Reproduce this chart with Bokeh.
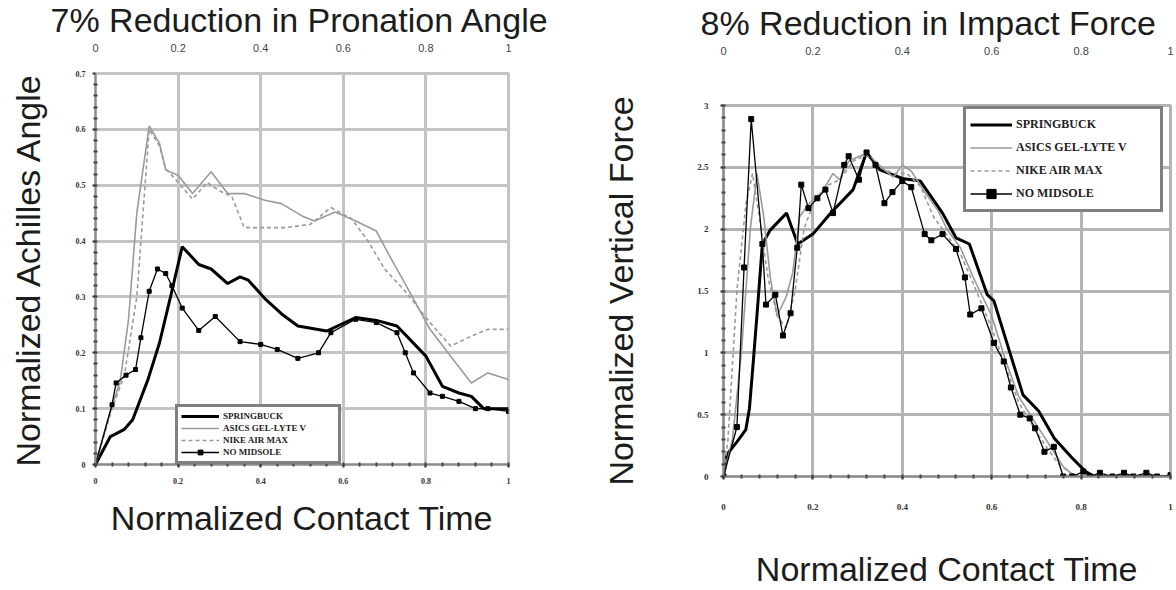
from bokeh.plotting import figure
from bokeh.layouts import row
from bokeh.models import FixedTicker, Legend, LegendItem, LinearAxis, Range1d
from bokeh.embed import file_html
from bokeh.resources import INLINE

# ---------------- data ----------------
SERIES = ["SPRINGBUCK", "ASICS GEL-LYTE V", "NIKE AIR MAX", "NO MIDSOLE"]

LEFT_TITLE = "7% Reduction in Pronation Angle"
LEFT_YLABEL = "Normalized Achilles Angle"
RIGHT_TITLE = "8% Reduction in Impact Force"
RIGHT_YLABEL = "Normalized Vertical Force"
XLABEL = "Normalized Contact Time"

LEFT_XTICKS = [0, 0.2, 0.4, 0.6, 0.8, 1.0]
LEFT_XTICK_LABELS = ["0", "0.2", "0.4", "0.6", "0.8", "1"]
LEFT_YTICKS = [0, 0.1, 0.2, 0.3, 0.4, 0.5, 0.6, 0.7]
LEFT_YTICK_LABELS = ["0", "0.1", "0.2", "0.3", "0.4", "0.5", "0.6", "0.7"]
RIGHT_XTICKS = [0, 0.2, 0.4, 0.6, 0.8, 1.0]
RIGHT_XTICK_LABELS = ["0", "0.2", "0.4", "0.6", "0.8", "1"]
RIGHT_YTICKS = [0, 0.5, 1, 1.5, 2, 2.5, 3]
RIGHT_YTICK_LABELS = ["0", "0.5", "1", "1.5", "2", "2.5", "3"]

# Left chart: normalized Achilles angle
L_SPRING_X = [0, 0.036, 0.07, 0.09, 0.127, 0.155, 0.18, 0.21, 0.25, 0.28, 0.32, 0.35, 0.37, 0.41,
              0.45, 0.49, 0.56, 0.63, 0.68, 0.73, 0.8, 0.84, 0.88, 0.91, 0.94, 0.97, 1.0]
L_SPRING_Y = [0, 0.05, 0.063, 0.08, 0.152, 0.218, 0.295, 0.39, 0.358, 0.35, 0.324, 0.336, 0.33, 0.297,
              0.27, 0.248, 0.239, 0.263, 0.258, 0.248, 0.194, 0.14, 0.128, 0.122, 0.1, 0.1, 0.1]
L_ASICS_X = [0, 0.03, 0.06, 0.08, 0.1, 0.13, 0.155, 0.17, 0.2, 0.235, 0.28, 0.32, 0.36, 0.41, 0.45,
             0.5, 0.53, 0.58, 0.63, 0.68, 0.71, 0.76, 0.81, 0.86, 0.91, 0.95, 1.0]
L_ASICS_Y = [0, 0.08, 0.15, 0.26, 0.45, 0.606, 0.575, 0.527, 0.518, 0.485, 0.524, 0.485, 0.485, 0.473,
             0.467, 0.445, 0.436, 0.452, 0.436, 0.418, 0.376, 0.31, 0.242, 0.194, 0.146, 0.164, 0.152]
L_NIKE_X = [0, 0.04, 0.07, 0.1, 0.12, 0.13, 0.155, 0.17, 0.2, 0.235, 0.27, 0.3, 0.33, 0.36, 0.41,
            0.46, 0.52, 0.57, 0.62, 0.66, 0.7, 0.75, 0.81, 0.86, 0.91, 0.95, 1.0]
L_NIKE_Y = [0, 0.1, 0.16, 0.3, 0.5, 0.6, 0.57, 0.53, 0.505, 0.475, 0.505, 0.49, 0.48, 0.424, 0.424,
            0.424, 0.43, 0.46, 0.44, 0.4, 0.35, 0.31, 0.254, 0.212, 0.23, 0.242, 0.242]
L_NOMID_X = [0, 0.04, 0.05, 0.074, 0.097, 0.11, 0.13, 0.15, 0.17, 0.185, 0.21, 0.25, 0.29, 0.35, 0.4,
             0.44, 0.49, 0.54, 0.57, 0.63, 0.68, 0.73, 0.75, 0.77, 0.81, 0.84, 0.88, 0.92, 0.95, 1.0]
L_NOMID_Y = [0, 0.107, 0.146, 0.16, 0.17, 0.227, 0.31, 0.35, 0.342, 0.32, 0.28, 0.24, 0.265, 0.22, 0.215,
             0.206, 0.19, 0.2, 0.236, 0.26, 0.254, 0.236, 0.2, 0.164, 0.128, 0.122, 0.113, 0.1, 0.1, 0.095]

# Right chart: normalized vertical force
R_SPRING_X = [0, 0.008, 0.03, 0.05, 0.058, 0.066, 0.075, 0.087, 0.104, 0.141, 0.166, 0.2, 0.24, 0.29,
              0.32, 0.35, 0.4, 0.44, 0.49, 0.52, 0.55, 0.59, 0.605, 0.64, 0.67, 0.705, 0.74, 0.78,
              0.81, 0.83, 1.0]
R_SPRING_Y = [0, 0.18, 0.28, 0.38, 0.55, 0.9, 1.31, 1.88, 1.99, 2.13, 1.88, 1.96, 2.13, 2.32,
              2.62, 2.48, 2.41, 2.39, 2.13, 1.93, 1.88, 1.47, 1.42, 1.01, 0.66, 0.53, 0.31, 0.15,
              0.04, 0.0, 0.0]
R_ASICS_X = [0, 0.02, 0.04, 0.06, 0.075, 0.09, 0.105, 0.12, 0.14, 0.155, 0.17, 0.19, 0.22, 0.245,
             0.26, 0.28, 0.31, 0.33, 0.36, 0.38, 0.4, 0.42, 0.45, 0.48, 0.5, 0.53, 0.56, 0.6, 0.63,
             0.66, 0.7, 0.73, 0.76, 0.78, 0.8, 1.0]
R_ASICS_Y = [0, 0.3, 1.0, 2.0, 2.45, 2.1, 1.6, 1.3, 1.45, 1.65, 2.1, 2.2, 2.3, 2.45,
             2.4, 2.55, 2.6, 2.58, 2.48, 2.42, 2.52, 2.47, 2.3, 2.15, 2.0, 1.85, 1.6, 1.3, 0.95,
             0.65, 0.42, 0.25, 0.08, 0.02, 0.0, 0.0]
R_NIKE_X = [0, 0.01, 0.03, 0.05, 0.065, 0.08, 0.1, 0.12, 0.14, 0.16, 0.18, 0.2, 0.23, 0.26, 0.29,
            0.32, 0.35, 0.38, 0.41, 0.44, 0.47, 0.5, 0.53, 0.56, 0.6, 0.63, 0.66, 0.69, 0.72, 0.75,
            0.78, 0.8, 1.0]
R_NIKE_Y = [0, 0.3, 1.5, 2.2, 2.45, 2.1, 1.6, 1.3, 1.2, 1.5, 2.0, 2.2, 2.35, 2.4, 2.55,
            2.6, 2.5, 2.45, 2.45, 2.35, 2.1, 1.95, 1.8, 1.55, 1.2, 0.9, 0.6, 0.42, 0.25, 0.1,
            0.02, 0.0, 0.0]
R_NOMID_X = [0, 0.03, 0.046, 0.062, 0.087, 0.095, 0.116, 0.133, 0.15, 0.165, 0.174, 0.19, 0.21, 0.228,
             0.245, 0.27, 0.28, 0.303, 0.32, 0.34, 0.36, 0.378, 0.4, 0.42, 0.45, 0.465, 0.49, 0.52,
             0.54, 0.552, 0.577, 0.605, 0.627, 0.643, 0.664, 0.685, 0.697, 0.718, 0.739, 0.76, 0.78,
             0.805, 0.82, 0.842, 0.87, 0.896, 0.917, 0.946, 0.97, 1.0]
R_NOMID_Y = [0, 0.4, 1.69, 2.89, 1.88, 1.39, 1.47, 1.14, 1.32, 1.85, 2.36, 2.17, 2.25, 2.32,
             2.13, 2.52, 2.59, 2.4, 2.62, 2.52, 2.21, 2.3, 2.39, 2.34, 1.96, 1.91, 1.96, 1.84,
             1.61, 1.31, 1.36, 1.08, 0.93, 0.72, 0.5, 0.47, 0.39, 0.2, 0.24, 0.0, 0.0,
             0.04, 0.0, 0.03, 0.0, 0.03, 0.0, 0.03, 0.0, 0.01]

SANS = "Liberation Sans"
SERIF = "Liberation Serif"


def build(cfg):
    p = figure(width=cfg["width"], height=cfg["height"],
               x_range=Range1d(0, 1), y_range=Range1d(0, cfg["ymax"]),
               output_backend="svg", toolbar_location=None,
               min_border_left=cfg["bl"], min_border_right=cfg["br"],
               min_border_top=cfg["bt"], min_border_bottom=cfg["bb"],
               background_fill_color="white", border_fill_color="white")
    if "frame_align" in p.properties():
        p.frame_align = False
    p.title.text = cfg["title"]
    p.title.align = "left"
    p.title.offset = cfg["title_offset"]
    p.title.vertical_align = "top"
    p.title.standoff = 0
    p.title.text_font = SANS
    p.title.text_font_size = "34px"
    p.title.text_font_style = "normal"
    p.title.text_color = "#1c1c1c"
    # an empty, invisible top axis keeps a gap between the frame and the title
    gap_axis = LinearAxis(ticker=FixedTicker(ticks=[]), major_tick_out=cfg["title_gap"],
                          major_tick_in=0, axis_line_color=None, major_tick_line_color=None,
                          minor_tick_line_color=None, major_label_standoff=0)
    p.add_layout(gap_axis, "above")
    p.outline_line_color = cfg["grid_color"]
    p.outline_line_width = 3

    p.xaxis[0].ticker = FixedTicker(ticks=cfg["xticks"], minor_ticks=cfg["xminor"])
    p.yaxis[0].ticker = FixedTicker(ticks=cfg["yticks"], minor_ticks=cfg["yminor"])
    main_x = p.below[0]
    main_y = p.left[0]
    main_x.major_label_overrides = dict(zip(cfg["xticks"], cfg["xlabels"]))
    main_y.major_label_overrides = dict(zip(cfg["yticks"], cfg["ylabels"]))
    for ax in (main_x, main_y):
        ax.axis_line_color = "#8a8a8a"
        ax.axis_line_width = 2
        ax.major_tick_line_color = "#333333"
        ax.major_tick_line_width = 2
        ax.major_tick_in = 0
        ax.major_tick_out = 3
        ax.minor_tick_line_color = "#444444"
        ax.minor_tick_line_width = 2
        ax.minor_tick_in = 2
        ax.minor_tick_out = 2
        ax.major_label_text_font = SERIF
        ax.major_label_text_font_style = "bold"
        ax.major_label_text_font_size = cfg["tick_size"]
        ax.major_label_text_color = "#333333"
        ax.axis_label_text_font = SANS
        ax.axis_label_text_font_size = "34px"
        ax.axis_label_text_font_style = "normal"
        ax.axis_label_text_color = "#1c1c1c"
    main_x.axis_label = XLABEL
    main_y.axis_label = cfg["ylabel"]
    main_x.major_label_standoff = cfg["x_tick_standoff"]
    main_y.major_label_standoff = cfg["y_tick_standoff"]
    main_x.axis_label_standoff = cfg["x_label_standoff"]
    main_y.axis_label_standoff = cfg["y_label_standoff"]

    for g in (p.xgrid[0], p.ygrid[0]):
        g.grid_line_color = cfg["grid_color"]
        g.grid_line_width = 3

    r1 = p.line(cfg["sx"], cfg["sy"], line_color="black", line_width=3)
    r2 = p.line(cfg["ax"], cfg["ay"], line_color="#9a9a9a", line_width=1.6)
    r3 = p.line(cfg["nx"], cfg["ny"], line_color="#9a9a9a", line_width=1.6, line_dash="4 3")
    r4 = p.line(cfg["mx"], cfg["my"], line_color="black", line_width=1.3)
    r5 = p.scatter(cfg["mx"], cfg["my"], marker="square", size=cfg["msize"],
                   fill_color="black", line_color="black")

    legend = Legend(items=[LegendItem(label=SERIES[0], renderers=[r1]),
                           LegendItem(label=SERIES[1], renderers=[r2]),
                           LegendItem(label=SERIES[2], renderers=[r3]),
                           LegendItem(label=SERIES[3], renderers=[r4, r5])],
                    location=cfg["leg_loc"], orientation="vertical",
                    border_line_color="black", border_line_width=3,
                    background_fill_color="white", background_fill_alpha=1.0,
                    label_text_font=SERIF, label_text_font_style="bold",
                    label_text_font_size=cfg["leg_font"], label_text_color="#222222",
                    glyph_width=cfg["leg_gw"], glyph_height=cfg["leg_h"],
                    label_height=cfg["leg_h"], label_width=cfg["leg_lw"],
                    label_standoff=4, spacing=0, padding=cfg["leg_pad"], margin=0)
    p.add_layout(legend)
    return p


left_cfg = dict(width=586, height=590, ymax=0.7, bl=95, br=78, bt=73, bb=126,
                title=LEFT_TITLE, title_offset=-45, title_gap=22,
                grid_color="#c4c4c4",
                xticks=LEFT_XTICKS, xlabels=LEFT_XTICK_LABELS,
                yticks=LEFT_YTICKS, ylabels=LEFT_YTICK_LABELS,
                xminor=[i * 0.04 for i in range(26)], yminor=[i * 0.02 for i in range(36)],
                tick_size="8px", ylabel=LEFT_YLABEL,
                x_tick_standoff=10, y_tick_standoff=7,
                x_label_standoff=12, y_label_standoff=26,
                sx=L_SPRING_X, sy=L_SPRING_Y, ax=L_ASICS_X, ay=L_ASICS_Y,
                nx=L_NIKE_X, ny=L_NIKE_Y, mx=L_NOMID_X, my=L_NOMID_Y, msize=4,
                leg_loc=(80, 0), leg_font="9px", leg_gw=38, leg_h=12, leg_lw=112, leg_pad=3)

right_cfg = dict(width=590, height=590, ymax=3.0, bl=137, br=6, bt=105, bb=114,
                 title=RIGHT_TITLE, title_offset=-23, title_gap=51,
                 grid_color="#b4b4b4",
                 xticks=RIGHT_XTICKS, xlabels=RIGHT_XTICK_LABELS,
                 yticks=RIGHT_YTICKS, ylabels=RIGHT_YTICK_LABELS,
                 xminor=[i * 0.05 for i in range(21)], yminor=[i * 0.1 for i in range(31)],
                 tick_size="9px", ylabel=RIGHT_YLABEL,
                 x_tick_standoff=24, y_tick_standoff=12,
                 x_label_standoff=37, y_label_standoff=54,
                 sx=R_SPRING_X, sy=R_SPRING_Y, ax=R_ASICS_X, ay=R_ASICS_Y,
                 nx=R_NIKE_X, ny=R_NIKE_Y, mx=R_NOMID_X, my=R_NOMID_Y, msize=5,
                 leg_loc=(240, 264), leg_font="12px", leg_gw=42, leg_h=23, leg_lw=140, leg_pad=4)

p_left = build(left_cfg)
p_right = build(right_cfg)

layout = row(p_left, p_right, spacing=0)
open("out.html", "w").write(file_html(layout, INLINE))
